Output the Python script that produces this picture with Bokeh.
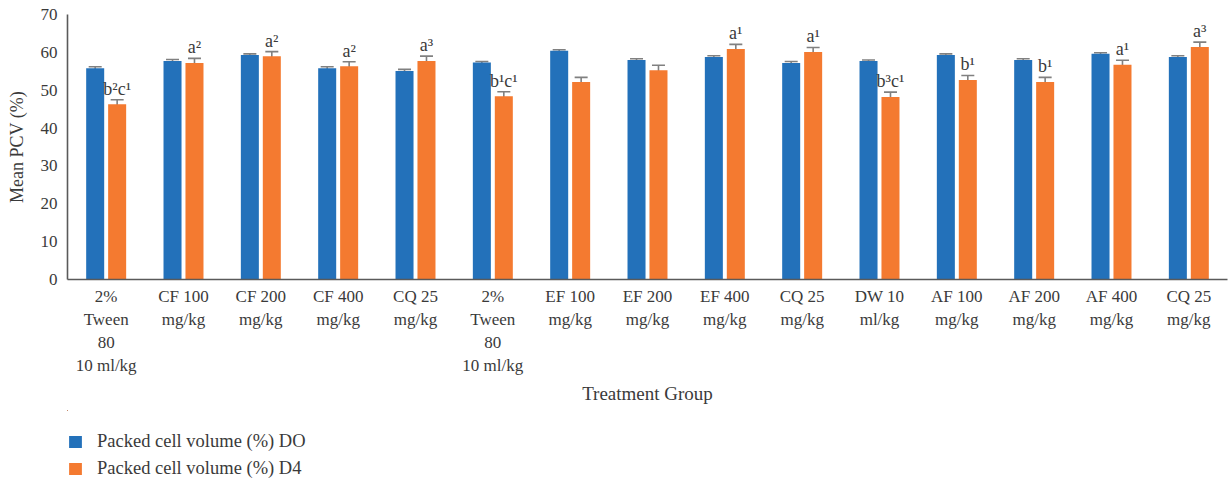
import numpy as np
from bokeh.plotting import figure
from bokeh.layouts import column
from bokeh.models import ColumnDataSource, Whisker, Legend, LegendItem, FixedTicker
from bokeh.core.properties import value
from bokeh.embed import file_html
from bokeh.resources import INLINE

# Treatment groups (x tick labels)
groups = [
    "2%\nTween\n80\n10 ml/kg", "CF 100\nmg/kg", "CF 200\nmg/kg", "CF 400\nmg/kg",
    "CQ 25\nmg/kg", "2%\nTween\n80\n10 ml/kg", "EF 100\nmg/kg", "EF 200\nmg/kg",
    "EF 400\nmg/kg", "CQ 25\nmg/kg", "DW 10\nml/kg", "AF 100\nmg/kg",
    "AF 200\nmg/kg", "AF 400\nmg/kg", "CQ 25\nmg/kg",
]

# Mean packed cell volume (%) on day 0 and day 4, with standard errors
pcv_d0 = [55.8, 57.7, 59.3, 55.8, 55.1, 57.3, 60.4, 58.0, 58.8, 57.2, 57.7, 59.3, 58.0, 59.6, 58.8]
err_d0 = [0.4, 0.4, 0.3, 0.4, 0.4, 0.3, 0.3, 0.3, 0.3, 0.4, 0.3, 0.3, 0.3, 0.3, 0.3]
pcv_d4 = [46.3, 57.2, 59.0, 56.3, 57.7, 48.4, 52.2, 55.3, 60.9, 60.1, 48.2, 52.7, 52.2, 56.7, 61.4]
err_d4 = [1.2, 1.2, 1.2, 1.2, 1.3, 1.2, 1.2, 1.3, 1.2, 1.2, 1.3, 1.2, 1.2, 1.2, 1.3]

# Significance letters shown above the day 4 bars
sig = ["b²c¹", "a²", "a²", "a²", "a³", "b¹c¹", "", "", "a¹", "a¹", "b³c¹", "b¹", "b¹", "a¹", "a³"]

series_names = ["Packed cell volume (%) DO", "Packed cell volume (%) D4"]
y_ticks = [0, 10, 20, 30, 40, 50, 60, 70]

BLUE = "#2371BA"
ORANGE = "#F47A30"
TEXT = "#3a3a3a"
AXIS = "#5a5a5a"
FONT = "Liberation Serif"

idx = np.arange(len(groups))
shift = 0.142
bar_w = 0.233

src0 = ColumnDataSource(dict(
    x=idx - shift, top=pcv_d0,
    lower=np.array(pcv_d0) - np.array(err_d0),
    upper=np.array(pcv_d0) + np.array(err_d0),
))
src4 = ColumnDataSource(dict(
    x=idx + shift, top=pcv_d4,
    lower=np.array(pcv_d4) - np.array(err_d4),
    upper=np.array(pcv_d4) + np.array(err_d4),
    lab=sig,
))

p = figure(
    width=1229, height=410,
    x_range=(-0.5, len(groups) - 0.5), y_range=(0, 70),
    output_backend="svg", toolbar_location=None,
    min_border_left=67, min_border_right=2, min_border_top=14, min_border_bottom=131,
)
p.outline_line_color = None
p.xgrid.visible = False
p.ygrid.visible = False

p.vbar(x="x", top="top", width=bar_w, source=src0, fill_color=BLUE, line_color=None)
p.vbar(x="x", top="top", width=bar_w, source=src4, fill_color=ORANGE, line_color=None)

for s in (src0, src4):
    w = Whisker(base="x", lower="lower", upper="upper", source=s,
                line_color="#808080", line_width=1.6)
    w.upper_head.size = 13
    w.lower_head.size = 13
    w.upper_head.line_color = "#808080"
    w.lower_head.line_color = "#808080"
    w.upper_head.line_width = 1.6
    w.lower_head.line_width = 1.6
    p.add_layout(w)

p.text(x="x", y="upper", text="lab", source=src4, text_align="center",
       text_baseline="alphabetic", y_offset=-11, text_font=value(FONT),
       text_font_size="18px", text_color=TEXT)

# Axes
xa = p.xaxis[0]
xa.ticker = FixedTicker(ticks=list(idx))
xa.major_label_overrides = {int(i): g for i, g in zip(idx, groups)}
xa.major_tick_line_color = None
xa.minor_tick_line_color = None
xa.major_tick_out = 0
xa.major_tick_in = 0
xa.major_label_standoff = 7
xa.major_label_text_font = FONT
xa.major_label_text_font_size = "17px"
xa.major_label_text_color = TEXT
xa.major_label_text_line_height = 1.22
xa.axis_line_color = AXIS
xa.axis_line_width = 1.6
xa.axis_label = "Treatment Group"
xa.axis_label_text_font = FONT
xa.axis_label_text_font_size = "19px"
xa.axis_label_text_font_style = "normal"
xa.axis_label_text_color = TEXT
xa.axis_label_standoff = 5

ya = p.yaxis[0]
ya.ticker = FixedTicker(ticks=y_ticks)
ya.major_tick_line_color = None
ya.minor_tick_line_color = None
ya.major_tick_out = 0
ya.major_tick_in = 0
ya.major_label_standoff = 10
ya.major_label_text_font = FONT
ya.major_label_text_font_size = "17px"
ya.major_label_text_color = TEXT
ya.axis_line_color = AXIS
ya.axis_line_width = 1.6
ya.axis_label = "Mean PCV (%)"
ya.axis_label_text_font = FONT
ya.axis_label_text_font_size = "18px"
ya.axis_label_text_font_style = "normal"
ya.axis_label_text_color = TEXT
ya.axis_label_standoff = 11

# Legend strip under the chart; its ranges lie far away from the bars,
# so only the legend swatches and labels show here.
leg = figure(width=1229, height=69, output_backend="svg", toolbar_location=None,
             min_border=0, x_axis_location=None, y_axis_location=None,
             x_range=(100, 101), y_range=(-200, -100))
leg.grid.visible = False
leg.outline_line_color = None
k0 = leg.vbar(x="x", top="top", width=bar_w, source=src0, fill_color=BLUE, line_color=None)
k4 = leg.vbar(x="x", top="top", width=bar_w, source=src4, fill_color=ORANGE, line_color=None)

legend = Legend(
    items=[LegendItem(label=series_names[0], renderers=[k0]),
           LegendItem(label=series_names[1], renderers=[k4])],
    location=(0, 0), orientation="vertical",
    border_line_color=None, background_fill_alpha=0,
    padding=0, margin=0, spacing=6,
    glyph_width=16, glyph_height=15, label_standoff=14,
    label_text_font=FONT, label_text_font_size="18.5px", label_text_color=TEXT,
)
leg.add_layout(legend, "center")

layout = column(p, leg, spacing=0)
open("out.html", "w").write(file_html(layout, INLINE))
